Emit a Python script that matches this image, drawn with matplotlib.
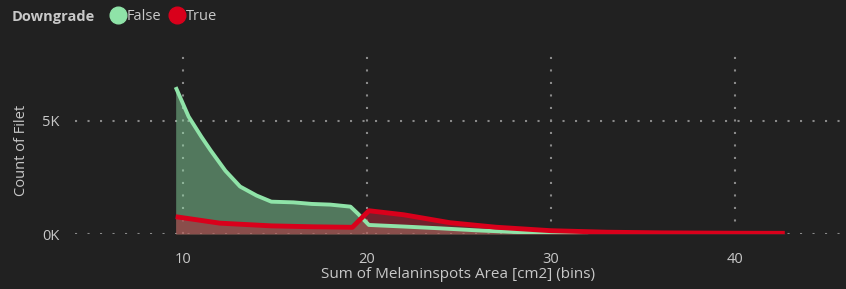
import matplotlib
matplotlib.use("Agg")
import matplotlib.pyplot as plt
from matplotlib.lines import Line2D
from matplotlib.ticker import FuncFormatter

# data
false_x = [9.6, 10.3, 11.0, 11.5, 12.3, 13.1, 14.0, 14.8, 16.0, 17.0, 18.0, 19.1, 19.5, 20.1,
           22.0, 24.0, 26.0, 28.0, 30.0, 32.0]
false_y = [6500, 5200, 4300, 3700, 2800, 2100, 1700, 1430, 1400, 1330, 1300, 1210, 900, 400,
           330, 250, 160, 90, 40, 10]
true_x = [9.6, 12.0, 14.8, 17.0, 19.2, 20.1, 22.0, 24.5, 27.0, 30.0, 33.0, 36.0, 40.0, 42.7]
true_y = [765, 480, 360, 320, 296, 1030, 850, 500, 300, 146, 80, 50, 35, 30]

x_ticks = [10, 20, 30, 40]
y_ticks = [0, 5000]

BG = "#212121"
GREEN = "#8fe3a8"
RED = "#d9001b"
TXT = "#c8c8c8"
GRID = "#8a8a8a"

plt.rcParams["font.family"] = ["Open Sans", "DejaVu Sans"]

fig = plt.figure(figsize=(8.46, 2.89), dpi=100, facecolor=BG)
ax = fig.add_axes([75 / 846, (289 - 234) / 289, (840 - 75) / 846, 179 / 289], facecolor=BG)

ax.fill_between(false_x, false_y, color=GREEN, alpha=0.45, lw=0, zorder=2)
ax.fill_between(true_x, true_y, color="#c0253a", alpha=0.5, lw=0, zorder=3)
ax.plot(false_x, false_y, color=GREEN, lw=2.8, zorder=4, solid_capstyle="butt")
ax.plot(true_x, true_y, color=RED, lw=3.5, zorder=5, solid_capstyle="butt")

ax.set_xlim(4.13, 45.7)
ax.set_ylim(0, 7920)
ax.set_xticks(x_ticks)
ax.set_yticks(y_ticks)
ax.yaxis.set_major_formatter(FuncFormatter(lambda v, p: f"{int(v / 1000)}K"))
ax.grid(True, color=GRID, linestyle=(0, (1, 5)), linewidth=1.5, zorder=1)
ax.set_axisbelow(True)
for s in ax.spines.values():
    s.set_visible(False)
ax.tick_params(length=0, colors=TXT, labelsize=10.5)
ax.tick_params(axis="y", pad=11)
ax.tick_params(axis="x", pad=13)

ax.set_xlabel("Sum of Melaninspots Area [cm2] (bins)", color=TXT, fontsize=11, labelpad=0)
ax.set_ylabel("Count of Filet", color=TXT, fontsize=10.5)
ax.yaxis.set_label_coords((29 - 75) / 765, (234 - 150) / 179)

fig.text(12 / 846, 1 - 17 / 289, "Downgrade", color=TXT, fontsize=10.5, fontweight="bold", va="center")
handles = [Line2D([], [], marker="o", ls="", color=GREEN, markersize=12),
           Line2D([], [], marker="o", ls="", color=RED, markersize=12)]
fig.legend(handles, ["False", "True"], loc="center left", bbox_to_anchor=(109 / 846, 1 - 17 / 289),
           ncol=2, frameon=False, handletextpad=0.0, columnspacing=0.5, handlelength=1.2,
           labelcolor=TXT, fontsize=10.5, borderaxespad=0, borderpad=0)

fig.savefig("out.png", dpi=100, facecolor=BG)
